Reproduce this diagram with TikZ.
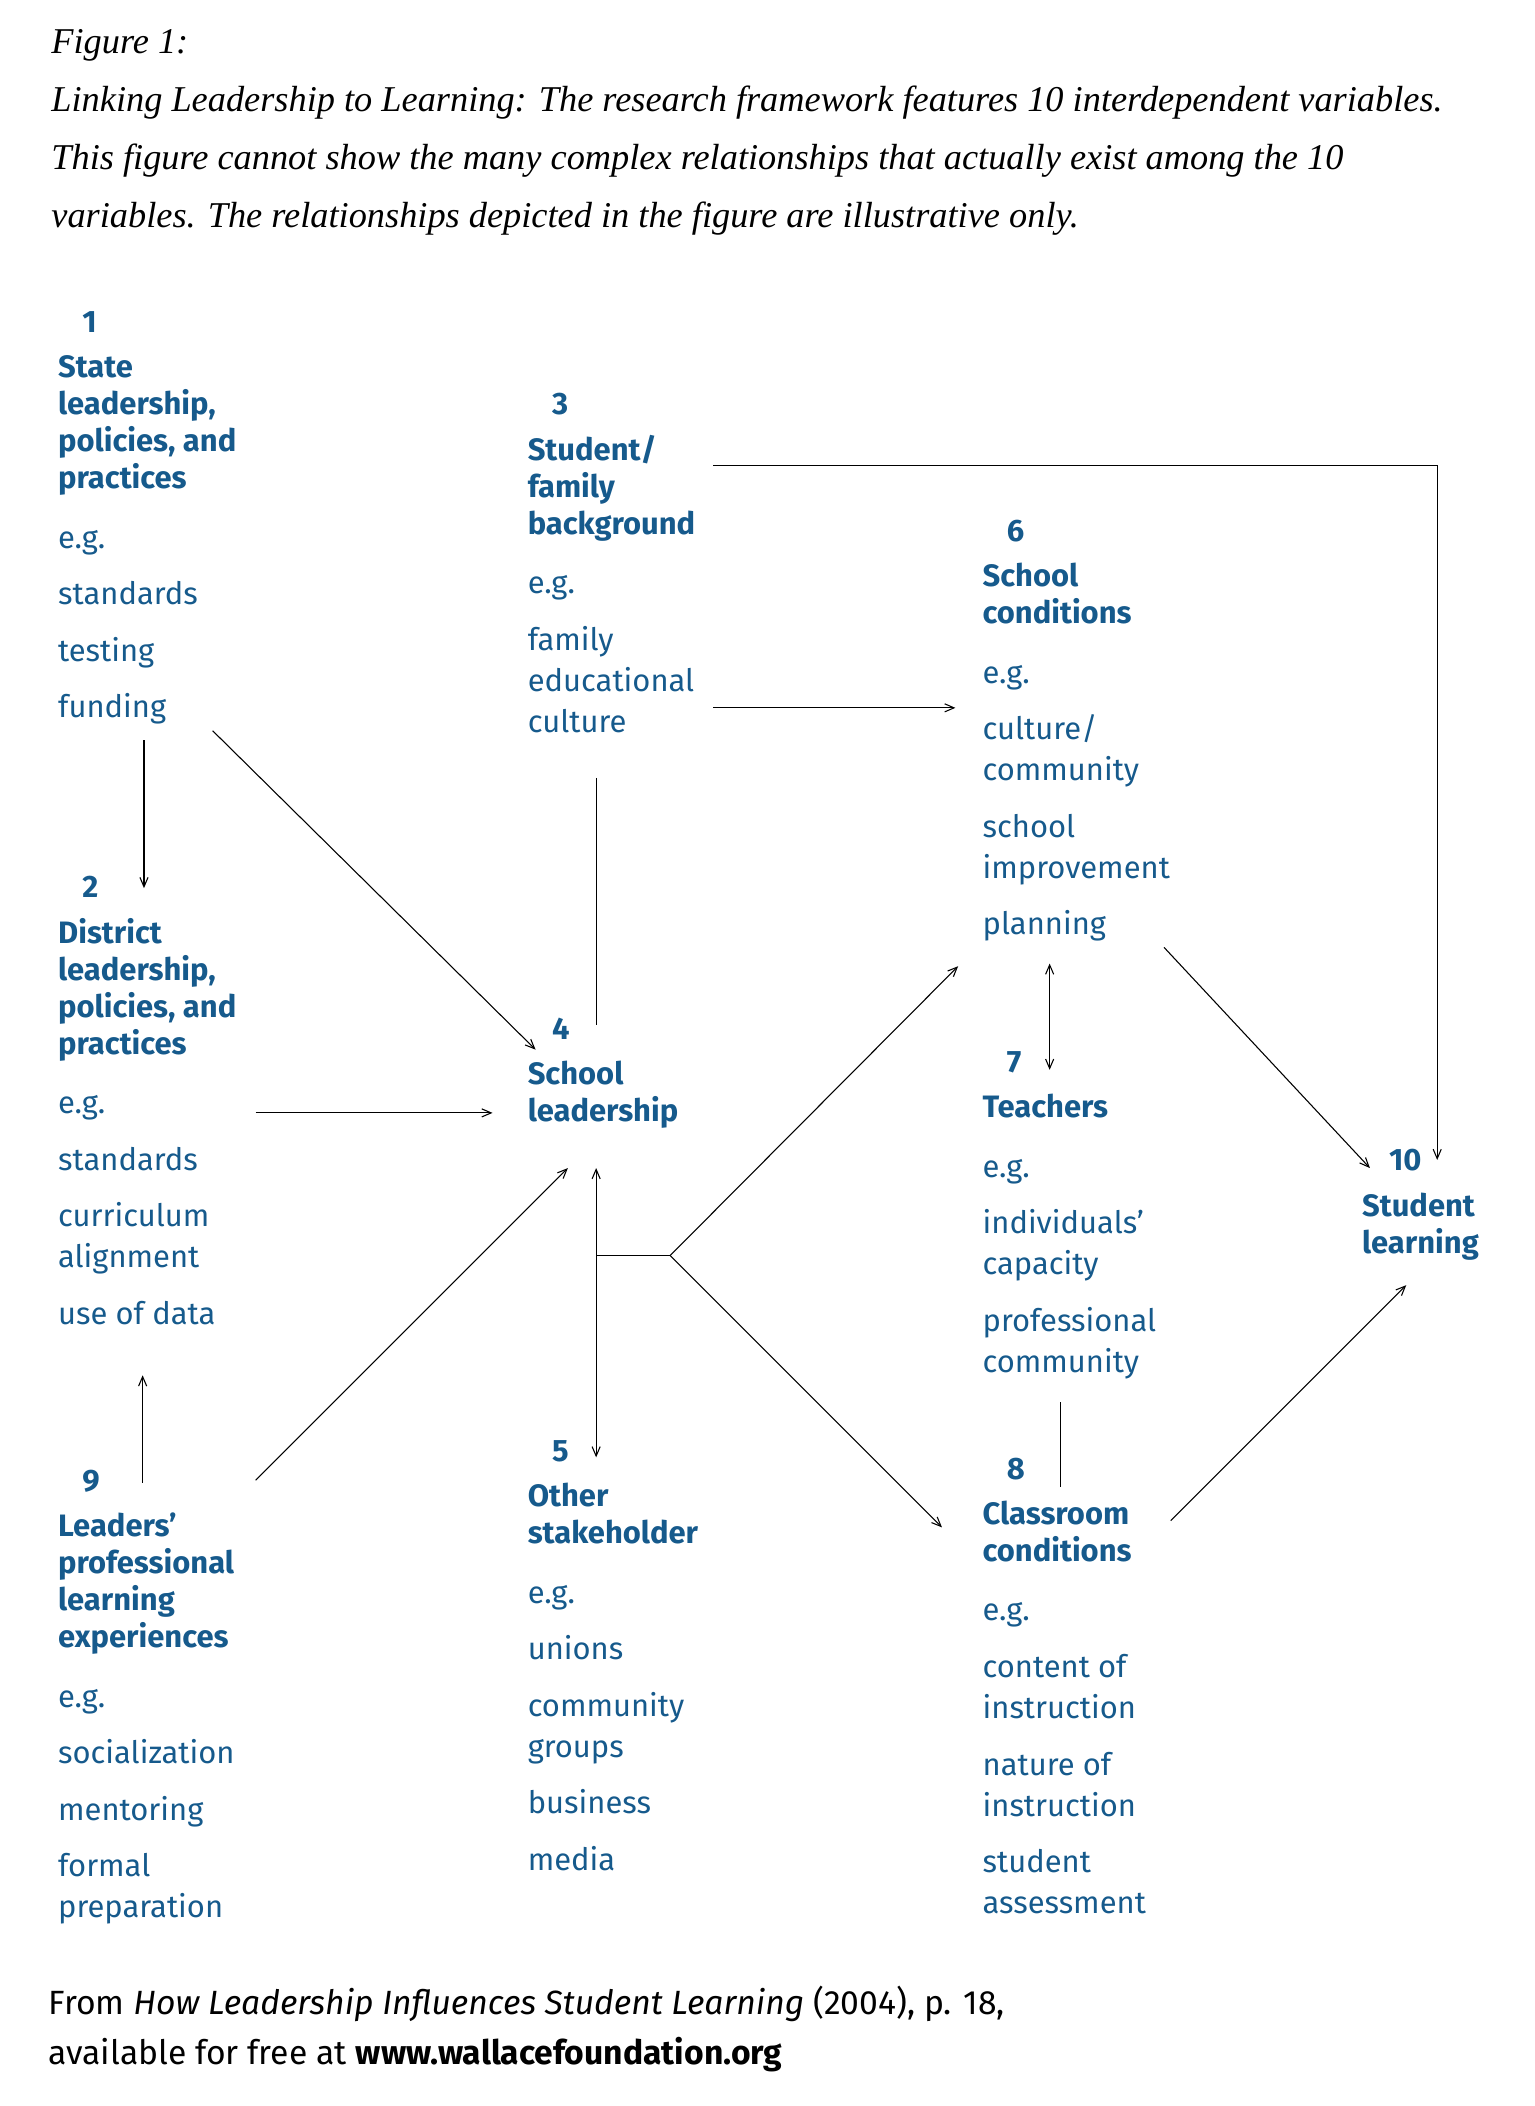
\documentclass[tikz,border=0pt]{standalone}
\usepackage{fontspec}
\setmainfont{Liberation Serif}
\setsansfont{Fira Sans}
\usetikzlibrary{arrows.meta}
\definecolor{wblue}{RGB}{22,90,140}
\newcommand{\numsp}[1]{\hspace*{18pt}\textbf{#1}\\[6.5pt]}

\begin{document}
\begin{tikzpicture}[x=1pt,y=-1pt,
  every node/.style={inner sep=0pt},
  var/.style={anchor=north west,align=left,text=wblue,
    font=\sffamily\fontsize{23}{27.5}\selectfont},
  link/.style={draw,line width=0.8pt,-{Straight Barb[length=7pt,width=6pt]}},
  plain/.style={draw,line width=0.8pt}]
\useasboundingbox (0,0) rectangle (1140,1565);
% caption
\node (cap) [anchor=north west,align=left,font=\itshape\fontsize{27}{43}\selectfont]
  at (38,22) {Figure 1:\\
  Linking Leadership to Learning: The research framework features 10 interdependent variables.\\
  This figure cannot show the many complex relationships that actually exist among the 10\\
  variables. The relationships depicted in the figure are illustrative only.};
% variables
\node (v1) [var] at (43,231) {\numsp{1}\textbf{State}\\\textbf{leadership,}\\\textbf{policies, and}\\\textbf{practices}\\[16.5pt]
  e.g.\\[14.5pt]standards\\[14.5pt]testing\\[14.5pt]funding};
\node (v2) [var] at (43,651) {\numsp{2}\textbf{District}\\\textbf{leadership,}\\\textbf{policies, and}\\\textbf{practices}\\[16.5pt]
  e.g.\\[14.5pt]standards\\[14.5pt]curriculum\\[3pt]alignment\\[14.5pt]use of data};
\node (v3) [var] at (392,292) {\numsp{3}\textbf{Student/}\\\textbf{family}\\\textbf{background}\\[16.5pt]
  e.g.\\[14.5pt]family\\[3pt]educational\\[3pt]culture};
\node (v4) [var] at (392,756) {\numsp{4}\textbf{School}\\\textbf{leadership}};
\node (v5) [var] at (392,1070) {\numsp{5}\textbf{Other}\\\textbf{stakeholder}\\[16.5pt]
  e.g.\\[14.5pt]unions\\[14.5pt]community\\[3pt]groups\\[14.5pt]business\\[14.5pt]media};
\node (v6) [var] at (730,386) {\numsp{6}\textbf{School}\\\textbf{conditions}\\[16.5pt]
  e.g.\\[14.5pt]culture/\\[3pt]community\\[14.5pt]school\\[3pt]improvement\\[14.5pt]planning};
\node (v7) [var] at (730,781) {\numsp{7}\textbf{Teachers}\\[16.5pt]
  e.g.\\[14.5pt]individuals'\\[3pt]capacity\\[14.5pt]professional\\[3pt]community};
\node (v8) [var] at (730,1083) {\numsp{8}\textbf{Classroom}\\\textbf{conditions}\\[16.5pt]
  e.g.\\[14.5pt]content of\\[3pt]instruction\\[14.5pt]nature of\\[3pt]instruction\\[14.5pt]student\\[3pt]assessment};
\node (v9) [var] at (43,1092) {\numsp{9}\textbf{Leaders'}\\\textbf{professional}\\\textbf{learning}\\\textbf{experiences}\\[16.5pt]
  e.g.\\[14.5pt]socialization\\[14.5pt]mentoring\\[14.5pt]formal\\[3pt]preparation};
\node (v10) [var] at (1012,854) {\hspace*{20pt}\textbf{10}\\[6.5pt]\textbf{Student}\\\textbf{learning}};
% source
\node (src) [anchor=north west,align=left,font=\sffamily\fontsize{25}{37}\selectfont]
  at (36,1476) {From \textit{How Leadership Influences Student Learning} (2004), p. 18,\\
  available for free at \textbf{www.wallacefoundation.org}};
% connector ends
\coordinate (a1) at (107,550);  \coordinate (a2) at (107,660);
\coordinate (b1) at (158,543);  \coordinate (b4) at (398,780);
\coordinate (c2) at (190,827);  \coordinate (c4) at (366,827);
\coordinate (d9) at (106,1102); \coordinate (d2) at (106,1022);
\coordinate (e9) at (190,1100); \coordinate (e4) at (422,868);
\coordinate (f3) at (443,578);  \coordinate (f4) at (443,762);
\coordinate (g4) at (443,868);  \coordinate (g5) at (443,1083);
\coordinate (hub0) at (443,933); \coordinate (hub) at (498,933);
\coordinate (h6) at (712,718);  \coordinate (h8) at (700,1135);
\coordinate (i3) at (530,526);  \coordinate (i6) at (710,526);
\coordinate (j3) at (530,346);  \coordinate (jc) at (1068,346); \coordinate (j10) at (1068,862);
\coordinate (k6) at (780,716);  \coordinate (k7) at (780,795);
\coordinate (l7) at (788,1042); \coordinate (l8) at (788,1105);
\coordinate (m6) at (865,704);  \coordinate (m10) at (1018,868);
\coordinate (n8) at (870,1130); \coordinate (n10) at (1045,955);
% connectors
\draw[link] (a1) -- (a2);
\draw[link] (b1) -- (b4);
\draw[link] (c2) -- (c4);
\draw[link] (d9) -- (d2);
\draw[link] (e9) -- (e4);
\draw[plain] (f3) -- (f4);
\draw[link,{Straight Barb[length=7pt,width=6pt]}-{Straight Barb[length=7pt,width=6pt]}] (g4) -- (g5);
\draw[plain] (hub0) -- (hub);
\draw[link] (hub) -- (h6);
\draw[link] (hub) -- (h8);
\draw[link] (i3) -- (i6);
\draw[link] (j3) -- (jc) -- (j10);
\draw[link,{Straight Barb[length=7pt,width=6pt]}-{Straight Barb[length=7pt,width=6pt]}] (k6) -- (k7);
\draw[plain] (l7) -- (l8);
\draw[link] (m6) -- (m10);
\draw[link] (n8) -- (n10);
\end{tikzpicture}
\end{document}
